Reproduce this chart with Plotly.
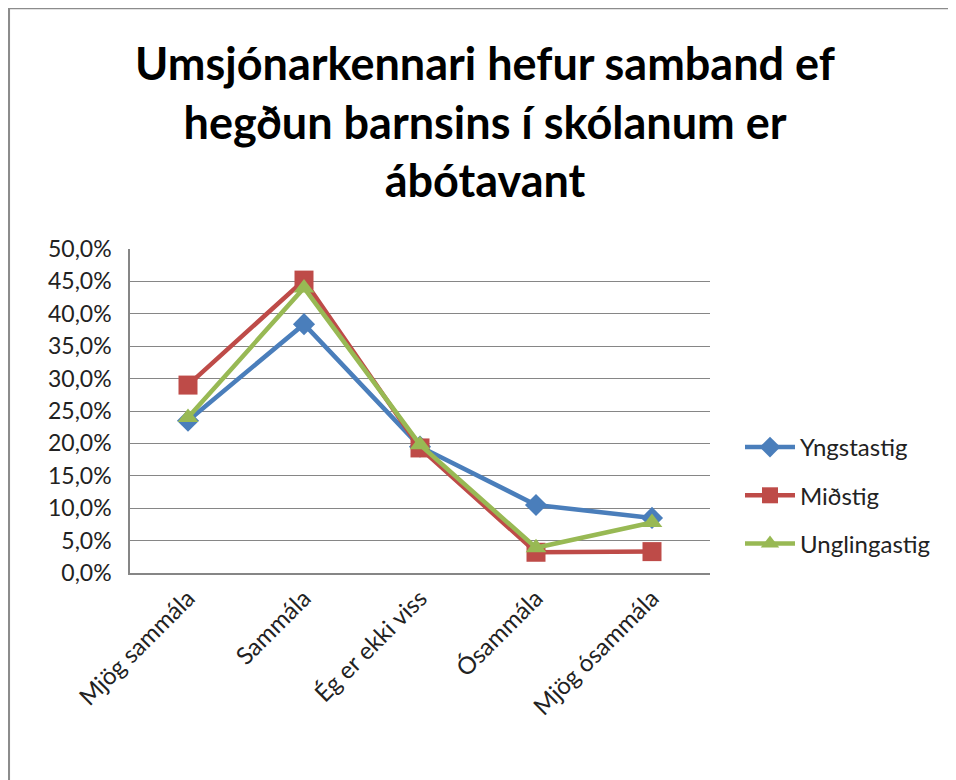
import plotly.graph_objects as go

categories = ["Mjög sammála", "Sammála", "Ég er ekki viss", "Ósammála", "Mjög ósammála"]
yngstastig = [23.5, 38.4, 19.5, 10.5, 8.5]
midstig = [29.0, 45.2, 19.3, 3.2, 3.3]
unglingastig = [24.0, 44.0, 19.8, 3.9, 7.8]

series = [
    ("Yngstastig", yngstastig, "#4A7EBB", "diamond", 17),
    ("Miðstig", midstig, "#BE4B48", "square", 19),
    ("Unglingastig", unglingastig, "#98B954", "triangle-up", 18),
]

fig = go.Figure()
for i, (name, vals, color, sym, size) in enumerate(series):
    fig.add_trace(go.Scatter(
        x=categories, y=vals, name=name, mode="lines+markers",
        line=dict(color=color, width=4.5),
        marker=dict(symbol=sym, size=size, color=color),
        legendgroup=f"g{i}",
    ))

# page body has an 8px margin, so figure coords = screen coords - 8
FW, FH = 948, 772
W, H = 580, 324
L, T = 122, 241
FONT = "Lato, Carlito, Calibri, sans-serif"
fig.update_layout(
    width=FW, height=FH,
    margin=dict(l=L, r=FW - L - W, t=T, b=FH - T - H),
    paper_bgcolor="white", plot_bgcolor="white",
    separators=", ",
    font=dict(family=FONT, color="#222222", size=23),
    title=dict(
        text="<b>Umsjónarkennari hefur samband ef<br>hegðun barnsins í skólanum er<br>ábótavant</b>",
        x=(485 - 8) / FW, xref="container", xanchor="center",
        y=1 - 72 / FH, yref="container", yanchor="top",
        font=dict(size=45, color="#000000", family=FONT),
    ),
    xaxis=dict(
        showgrid=False, showline=True, linecolor="#868686", linewidth=1.5,
        tickangle=-45, tickfont=dict(size=24), ticks="",
        range=[-0.5, 4.5],
    ),
    yaxis=dict(
        range=[0, 50], dtick=5, tickformat=".1f", ticksuffix="%",
        showgrid=True, gridcolor="#868686", gridwidth=1,
        showline=True, linecolor="#868686", linewidth=1.5,
        zeroline=False, tickfont=dict(size=23), ticklabelstandoff=12,
    ),
    legend=dict(
        x=(740 - 8 - L) / W, xanchor="left", y=(T + H - 417) / H, yanchor="top",
        font=dict(size=24), tracegroupgap=14, traceorder="grouped",
        itemwidth=50, bgcolor="rgba(0,0,0,0)",
    ),
    showlegend=True,
)

# chart frame (left and top edges as in the reference)
fig.add_shape(type="line", xref="paper", yref="paper",
              x0=(0.8 - L) / W, x1=(0.8 - L) / W,
              y0=(T + H - 0) / H, y1=(T + H - FH) / H,
              line=dict(color="#8C8C8C", width=2.5))
fig.add_shape(type="line", xref="paper", yref="paper",
              x0=(0 - L) / W, x1=(FW - L) / W,
              y0=(T + H - 0.5) / H, y1=(T + H - 0.5) / H,
              line=dict(color="#8C8C8C", width=1.5))

fig.write_html("out.html")
